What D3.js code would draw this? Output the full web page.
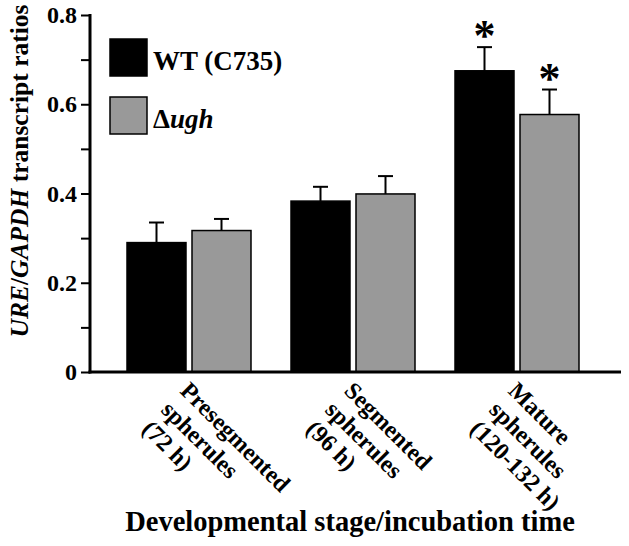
<!DOCTYPE html>
<html>
<head>
<meta charset="utf-8">
<script src="https://cdn.jsdelivr.net/npm/d3@7"></script>
<style>
  html, body { margin: 0; padding: 0; background: #fff; }
  svg text { font-family: "Liberation Serif", "Times New Roman", serif; font-weight: bold; }
</style>
</head>
<body>
<svg id="chart" width="629" height="546"></svg>
<script>
// ---- data ----
const categories = [
  ["Presegmented", "spherules", "(72 h)"],
  ["Segmented", "spherules", "(96 h)"],
  ["Mature", "spherules", "(120-132 h)"]
];
const seriesNames = ["WT (C735)", "ugh"];
const wtValues = [0.290, 0.383, 0.675];
const wtErrors = [0.045, 0.032, 0.053];
const ughValues = [0.317, 0.399, 0.577];
const ughErrors = [0.026, 0.040, 0.056];
const wtSignificant = [false, false, true];
const ughSignificant = [false, false, true];
const yTickValues = [0, 0.1, 0.2, 0.3, 0.4, 0.5, 0.6, 0.7, 0.8];
const yTickLabels = { 0: "0", 0.2: "0.2", 0.4: "0.4", 0.6: "0.6", 0.8: "0.8" };

// ---- layout ----
const svg = d3.select("#chart");
const x0 = 90, x1 = 621, yBase = 372, yTop = 15;
const colors = ["#000000", "#999999"];

const y = d3.scaleLinear().domain([0, 0.8]).range([yBase, yTop]);
const xGroup = d3.scaleBand().domain(d3.range(categories.length)).range([107, 599]).padding(0);
const xSub = d3.scaleBand().domain([0, 1]).range([20, 144]).paddingInner(6 / 65).paddingOuter(0);

const rows = categories.map((c, i) => [
  { s: 0, v: wtValues[i], e: wtErrors[i], sig: wtSignificant[i] },
  { s: 1, v: ughValues[i], e: ughErrors[i], sig: ughSignificant[i] }
]);

// bars
const groups = svg.selectAll("g.grp").data(rows).join("g")
  .attr("class", "grp")
  .attr("transform", (d, i) => `translate(${xGroup(i)},0)`);

// error bars (upward only)
groups.selectAll("line.err").data(d => d).join("line")
  .attr("x1", d => xSub(d.s) + xSub.bandwidth() / 2)
  .attr("x2", d => xSub(d.s) + xSub.bandwidth() / 2)
  .attr("y1", d => y(d.v))
  .attr("y2", d => y(d.v + d.e))
  .attr("stroke", "#000").attr("stroke-width", 2);
groups.selectAll("line.cap").data(d => d).join("line")
  .attr("x1", d => xSub(d.s) + xSub.bandwidth() / 2 - 7.5)
  .attr("x2", d => xSub(d.s) + xSub.bandwidth() / 2 + 7.5)
  .attr("y1", d => y(d.v + d.e))
  .attr("y2", d => y(d.v + d.e))
  .attr("stroke", "#000").attr("stroke-width", 2);

groups.selectAll("rect").data(d => d).join("rect")
  .attr("x", d => xSub(d.s))
  .attr("y", d => y(d.v))
  .attr("width", xSub.bandwidth())
  .attr("height", d => yBase - y(d.v))
  .attr("fill", d => colors[d.s])
  .attr("stroke", "#000").attr("stroke-width", 1.5);

// significance stars
groups.selectAll("text.star").data(d => d.filter(r => r.sig)).join("text")
  .attr("class", "star")
  .attr("x", d => xSub(d.s) + xSub.bandwidth() / 2)
  .attr("y", d => y(d.v + d.e) + 3)
  .attr("text-anchor", "middle")
  .attr("font-size", 44)
  .text("*");

// y axis
const yAxis = d3.axisLeft(y).tickValues(yTickValues)
  .tickFormat(d => (yTickLabels[d] !== undefined ? yTickLabels[d] : ""))
  .tickSize(9).tickPadding(4);
const gy = svg.append("g").attr("transform", `translate(${x0},0)`).call(yAxis);
gy.select(".domain").remove();
gy.selectAll(".tick line").attr("stroke", "#000").attr("stroke-width", 2);
gy.selectAll(".tick text").attr("font-size", 24).attr("fill", "#000");
svg.append("line").attr("x1", x0).attr("x2", x0).attr("y1", yTop - 1).attr("y2", yBase + 1.5)
  .attr("stroke", "#000").attr("stroke-width", 3);

// x axis baseline
svg.append("line").attr("x1", x0 - 1.5).attr("x2", x1).attr("y1", yBase).attr("y2", yBase)
  .attr("stroke", "#000").attr("stroke-width", 3);

// x category labels (rotated 45deg)
const lab = svg.selectAll("text.cat").data(categories).join("text")
  .attr("class", "cat")
  .attr("font-size", 24)
  .attr("transform", (d, i) => `translate(${xGroup(i) + xGroup.bandwidth() / 2 - 10},392) rotate(45)`);
lab.selectAll("tspan").data(d => d).join("tspan")
  .attr("x", 0)
  .attr("dy", (d, j) => (j === 0 ? 0 : 27))
  .text(d => d);

// axis titles
svg.append("text")
  .attr("x", 350).attr("y", 531)
  .attr("text-anchor", "middle")
  .attr("font-size", 28.5)
  .text("Developmental stage/incubation time");

const yt = svg.append("text")
  .attr("transform", "translate(28,171) rotate(-90)")
  .attr("text-anchor", "middle")
  .attr("font-size", 25.5);
yt.append("tspan").attr("font-style", "italic").text("URE");
yt.append("tspan").text("/");
yt.append("tspan").attr("font-style", "italic").text("GAPDH");
yt.append("tspan").text(" transcript ratios");

// legend
const leg = svg.append("g");
seriesNames.forEach((name, i) => {
  leg.append("rect")
    .attr("x", 110).attr("y", 39 + i * 58)
    .attr("width", 37).attr("height", 37)
    .attr("fill", colors[i]).attr("stroke", "#000").attr("stroke-width", 1.5);
  const t = leg.append("text")
    .attr("x", 153).attr("y", 70 + i * 58)
    .attr("font-size", 27);
  if (i === 1) {
    t.append("tspan").text("\u0394");
    t.append("tspan").attr("font-style", "italic").text(name);
  } else {
    t.text(name);
  }
});
</script>
</body>
</html>
